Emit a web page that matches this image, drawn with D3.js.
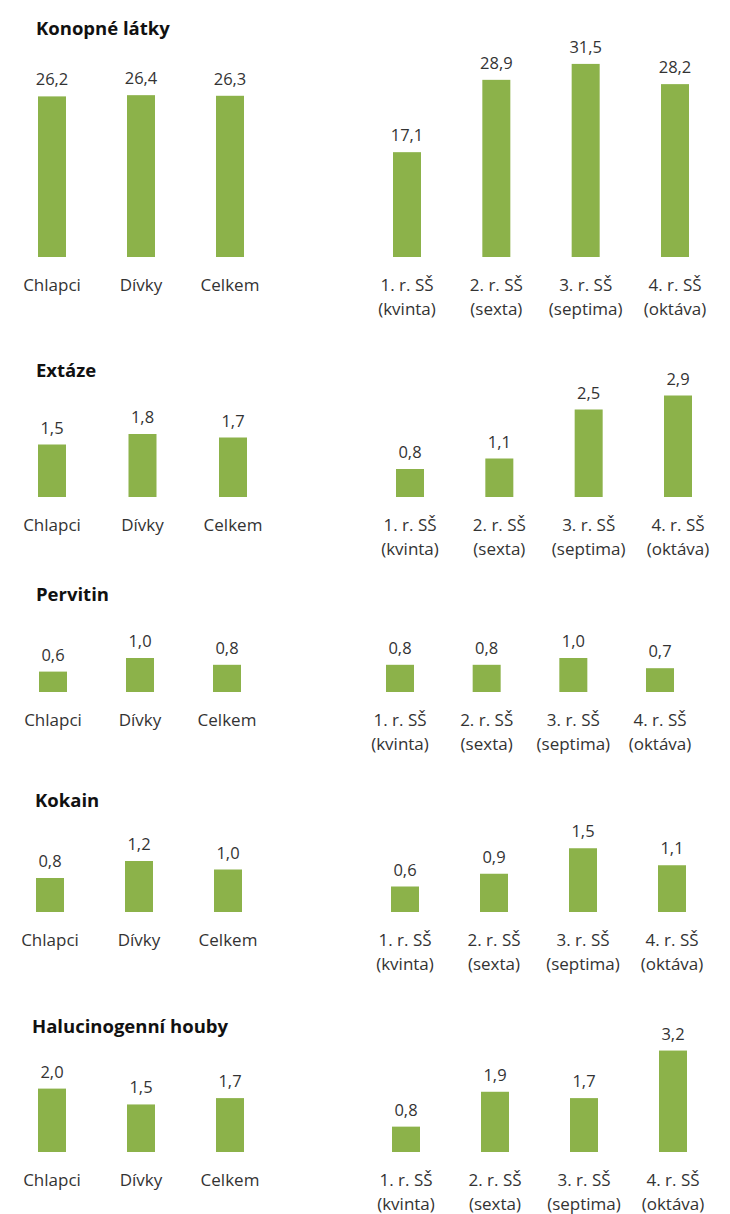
<!DOCTYPE html>
<html>
<head>
<meta charset="utf-8">
<script src="https://cdn.jsdelivr.net/npm/d3@7"></script>
<style>
    html, body { margin: 0; padding: 0; background: #fff; }
    svg text { font-family: "Open Sans", "DejaVu Sans", sans-serif; }
</style>
</head>
<body>
<div id="chart"></div>
<script>
'use strict';

/* global d3:false */

// data (percent)
var drugs = ['Konopné látky', 'Extáze', 'Pervitin', 'Kokain', 'Halucinogenní houby'];

var genderCats = ['Chlapci', 'Dívky', 'Celkem'];
var gradeCats = ['1. r. SŠ', '2. r. SŠ', '3. r. SŠ', '4. r. SŠ'];
var gradeSubs = ['(kvinta)', '(sexta)', '(septima)', '(oktáva)'];

var genderValues = [
    [26.2, 26.4, 26.3],
    [1.5, 1.8, 1.7],
    [0.6, 1.0, 0.8],
    [0.8, 1.2, 1.0],
    [2.0, 1.5, 1.7]
];

var gradeValues = [
    [17.1, 28.9, 31.5, 28.2],
    [0.8, 1.1, 2.5, 2.9],
    [0.8, 0.8, 1.0, 0.7],
    [0.6, 0.9, 1.5, 1.1],
    [0.8, 1.9, 1.7, 3.2]
];

// per-panel layout; every panel in the source has its own scale
var panels = [
    {titleX: 36, titleY: 35, base: 257, ppu: 6.13, left: [52, 230], right: [407, 675]},
    {titleX: 36, titleY: 377, base: 497, ppu: 35, left: [52, 233], right: [410, 678]},
    {titleX: 36, titleY: 601, base: 692, ppu: 34, left: [53, 227], right: [400, 660]},
    {titleX: 35, titleY: 807, base: 912, ppu: 42.5, left: [50, 228], right: [405, 672]},
    {titleX: 32, titleY: 1033, base: 1152, ppu: 31.7, left: [52, 230], right: [406, 673]}
];

var width = 730,
    height = 1214,
    barWidth = 28,
    barColor = '#8cb24a',
    textColor = '#333';

var fmt = function(v) { return d3.format('.1f')(v).replace('.', ','); };

var svg = d3.select('#chart').append('svg')
    .attr('width', width)
    .attr('height', height);

svg.append('rect')
    .attr('width', width)
    .attr('height', height)
    .attr('fill', '#fff');

function drawGroup(g, cats, subs, values, xRange, y, base) {
    var x = d3.scalePoint().domain(cats).range(xRange);

    var rows = cats.map(function(c, i) {
        return {cat: c, sub: subs ? subs[i] : null, value: values[i]};
    });

    g.selectAll('rect.bar')
        .data(rows)
        .enter().append('rect')
            .attr('class', 'bar')
            .attr('x', function(d) { return x(d.cat) - barWidth / 2; })
            .attr('y', function(d) { return y(d.value); })
            .attr('width', barWidth)
            .attr('height', function(d) { return y(0) - y(d.value); })
            .attr('fill', barColor);

    g.selectAll('text.value')
        .data(rows)
        .enter().append('text')
            .attr('class', 'value')
            .attr('x', function(d) { return x(d.cat); })
            .attr('y', function(d) { return y(d.value) - 11; })
            .attr('text-anchor', 'middle')
            .attr('font-size', 16.5)
            .attr('fill', textColor)
            .text(function(d) { return fmt(d.value); });

    var lab = g.selectAll('text.cat')
        .data(rows)
        .enter().append('text')
            .attr('class', 'cat')
            .attr('text-anchor', 'middle')
            .attr('font-size', 17)
            .attr('fill', textColor);

    lab.append('tspan')
        .attr('x', function(d) { return x(d.cat); })
        .attr('y', base + 34)
        .text(function(d) { return d.cat; });

    lab.filter(function(d) { return d.sub; })
        .append('tspan')
            .attr('x', function(d) { return x(d.cat); })
            .attr('y', base + 58)
            .text(function(d) { return d.sub; });
}

drugs.forEach(function(name, i) {
    var p = panels[i],
        g = svg.append('g').attr('class', 'panel');

    var y = d3.scaleLinear()
        .domain([0, 1])
        .range([p.base, p.base - p.ppu]);

    g.append('text')
        .attr('x', p.titleX)
        .attr('y', p.titleY)
        .attr('font-size', 18.5)
        .attr('font-weight', 'bold')
        .attr('fill', '#111')
        .text(name);

    drawGroup(g.append('g'), genderCats, null, genderValues[i], p.left, y, p.base);
    drawGroup(g.append('g'), gradeCats, gradeSubs, gradeValues[i], p.right, y, p.base);
});
</script>
</body>
</html>
